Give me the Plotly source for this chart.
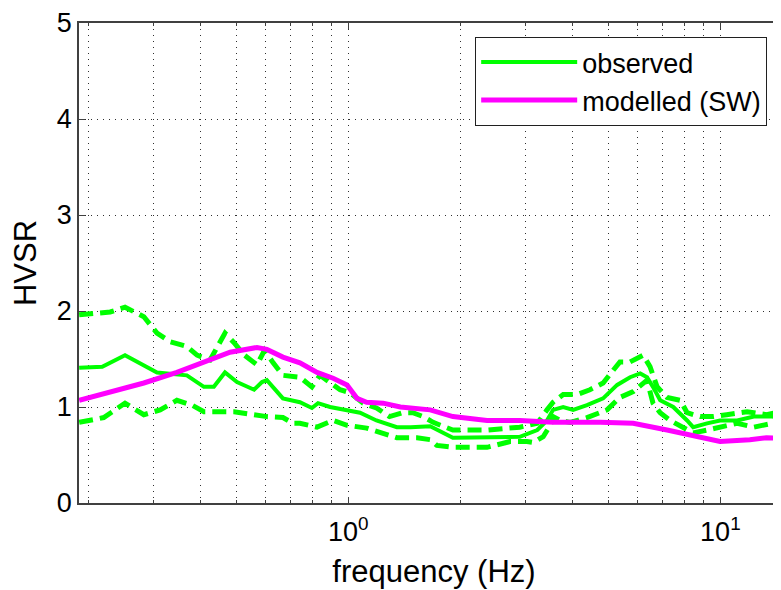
import plotly.graph_objects as go

# frequency (Hz) / HVSR readings for each curve
f_mean = [0.189, 0.218, 0.251, 0.306, 0.368, 0.409, 0.435, 0.466, 0.502, 0.558, 0.586, 0.604,
          0.667, 0.741, 0.798, 0.829, 0.893, 0.992, 1.075, 1.19, 1.35, 1.47, 1.66, 1.91, 2.36,
          2.89, 3.22, 3.42, 3.55, 3.78, 4.02, 4.38, 4.84, 5.28, 5.72, 6.09, 6.35, 6.59, 6.89,
          7.47, 8.14, 8.45, 9.21, 9.98, 11.1, 12.3, 13.8, 15.3]
hv_mean = [1.41, 1.42, 1.54, 1.36, 1.33, 1.21, 1.21, 1.36, 1.26, 1.18, 1.26, 1.28,
           1.09, 1.05, 0.99, 1.04, 1.00, 0.97, 0.94, 0.86, 0.79, 0.79, 0.80, 0.68, 0.68,
           0.69, 0.76, 0.86, 0.97, 1.00, 0.97, 1.02, 1.09, 1.23, 1.31, 1.35, 1.31, 1.21, 1.07,
           1.00, 0.86, 0.79, 0.83, 0.86, 0.86, 0.90, 0.90, 0.88]

f_upper = [0.189, 0.229, 0.251, 0.282, 0.306, 0.332, 0.368, 0.392, 0.425, 0.452, 0.466, 0.493,
           0.525, 0.568, 0.595, 0.628, 0.667, 0.741, 0.798, 0.839, 0.893, 0.950, 1.01, 1.095,
           1.19, 1.29, 1.40, 1.49, 1.59, 1.69, 1.91, 2.36, 2.89, 3.22, 3.42, 3.55, 3.78, 4.12,
           4.46, 4.84, 5.37, 5.72, 6.20, 6.47, 6.76, 7.19, 7.80, 8.14, 8.83, 9.56, 10.4, 11.8,
           13.3, 15.3]
hv_upper = [1.96, 1.99, 2.04, 1.94, 1.77, 1.68, 1.63, 1.54, 1.49, 1.67, 1.77, 1.67,
            1.54, 1.44, 1.59, 1.46, 1.33, 1.31, 1.21, 1.33, 1.25, 1.18, 1.15, 1.04,
            0.99, 0.90, 0.94, 0.94, 0.90, 0.84, 0.76, 0.76, 0.79, 0.83, 0.97, 1.05, 1.13, 1.13,
            1.18, 1.25, 1.47, 1.47, 1.54, 1.42, 1.21, 1.10, 1.07, 0.94, 0.90, 0.90, 0.92, 0.95,
            0.92, 0.97]

f_lower = [0.189, 0.220, 0.251, 0.282, 0.312, 0.346, 0.380, 0.409, 0.435, 0.493, 0.558, 0.604,
           0.667, 0.710, 0.741, 0.824, 0.910, 0.992, 1.12, 1.24, 1.35, 1.53, 1.66, 1.73, 1.91,
           2.36, 2.72, 3.02, 3.14, 3.34, 3.42, 3.49, 3.55, 3.71, 3.95, 4.38, 4.96, 5.37, 5.83,
           6.35, 6.59, 6.89, 7.33, 7.95, 8.45, 9.21, 9.98, 11.1, 12.3, 13.8, 15.3]
hv_lower = [0.84, 0.89, 1.04, 0.92, 0.97, 1.07, 1.02, 0.95, 0.95, 0.95, 0.92, 0.90,
            0.89, 0.83, 0.83, 0.79, 0.86, 0.81, 0.78, 0.73, 0.68, 0.68, 0.66, 0.60, 0.58,
            0.58, 0.64, 0.64, 0.63, 0.69, 0.76, 0.81, 0.90, 0.86, 0.84, 0.89, 0.97, 1.10, 1.16,
            1.28, 1.04, 0.94, 0.86, 0.79, 0.73, 0.76, 0.79, 0.83, 0.79, 0.83, 0.84]

f_model = [0.189, 0.229, 0.282, 0.346, 0.409, 0.481, 0.568, 0.604, 0.667, 0.741, 0.824, 0.910,
           0.992, 1.055, 1.12, 1.24, 1.38, 1.66, 1.91, 2.36, 2.89, 3.55, 4.75, 5.83, 7.19,
           8.83, 9.98, 12.0, 13.3, 15.3]
hv_model = [1.07, 1.16, 1.25, 1.36, 1.47, 1.57, 1.62, 1.60, 1.52, 1.46, 1.36, 1.30,
            1.23, 1.09, 1.05, 1.04, 1.00, 0.97, 0.90, 0.86, 0.86, 0.84, 0.84, 0.83, 0.76,
            0.68, 0.64, 0.66, 0.68, 0.67]

major_x = [1, 10]
major_x_text = ['10<sup>0</sup>', '10<sup>1</sup>']
minor_x = [0.2, 0.3, 0.4, 0.5, 0.6, 0.7, 0.8, 0.9, 2, 3, 4, 5, 6, 7, 8, 9]
y_ticks = [0, 1, 2, 3, 4, 5]

GREEN = '#00ff00'
MAGENTA = '#ff00ff'
FONT = 'Liberation Sans, Arial, sans-serif'

fig = go.Figure()

fig.add_trace(go.Scatter(x=f_upper, y=hv_upper, mode='lines', showlegend=False,
                         line=dict(color=GREEN, width=5, dash='14px,7px')))
fig.add_trace(go.Scatter(x=f_lower, y=hv_lower, mode='lines', showlegend=False,
                         line=dict(color=GREEN, width=5, dash='14px,7px')))
fig.add_trace(go.Scatter(x=f_mean, y=hv_mean, mode='lines', name='observed',
                         line=dict(color=GREEN, width=4)))
fig.add_trace(go.Scatter(x=f_model, y=hv_model, mode='lines', name='modelled (SW)',
                         line=dict(color=MAGENTA, width=5)))

grid = dict(showgrid=True, gridcolor='#303030', gridwidth=1, griddash='1px,5px')

# page body has an 8px margin, so margins are shifted by 8px
fig.update_layout(
    width=781, height=590,
    margin=dict(l=71, r=0, t=15, b=95),
    plot_bgcolor='white', paper_bgcolor='white',
    font=dict(family=FONT, size=27, color='black'),
    xaxis=dict(type='log', range=[-0.724, 1.1845],
               tickvals=major_x, ticktext=major_x_text, ticklabelstandoff=4,
               ticks='inside', ticklen=6, tickcolor='#404040',
               showline=True, linecolor='#404040', linewidth=1.5, mirror='ticks',
               minor=dict(tickvals=minor_x, ticks='inside', ticklen=3, tickcolor='#404040',
                          showgrid=True, gridcolor='#303030', griddash='1px,5px'),
               title=dict(text='frequency (Hz)', standoff=14, font=dict(size=31)),
               zeroline=False, **grid),
    yaxis=dict(range=[0, 5], tickvals=y_ticks,
               ticks='inside', ticklen=6, tickcolor='#404040',
               showline=True, linecolor='#404040', linewidth=1.5, mirror=False,
               title=dict(text='HVSR', standoff=12, font=dict(size=31)),
               zeroline=False, **grid),
    legend=dict(x=0.558, y=0.971, xanchor='left', yanchor='top',
                bgcolor='white', bordercolor='#202020', borderwidth=1,
                font=dict(size=27), itemwidth=96),
)

fig.write_html("out.html")
